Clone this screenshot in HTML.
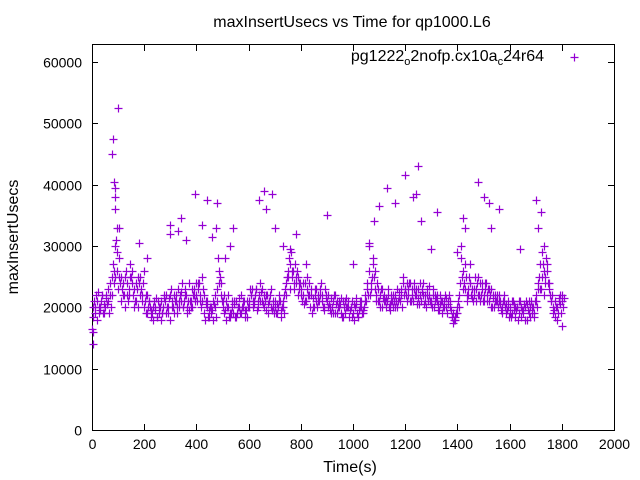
<!DOCTYPE html>
<html><head><meta charset="utf-8"><style>
html,body{margin:0;padding:0;background:#fff;}
svg{display:block;font-family:"Liberation Sans",sans-serif;}
</style></head><body>
<svg id="chart" width="640" height="480" xmlns="http://www.w3.org/2000/svg">
<rect width="640" height="480" fill="#fff"/>
<text x="352" y="27" font-size="16" text-anchor="middle">maxInsertUsecs vs Time for qp1000.L6</text>
<g id="axes"></g>
<g id="marks"></g>
<text x="350" y="472" font-size="16" text-anchor="middle">Time(s)</text>
<text transform="translate(18,237) rotate(-90)" font-size="16" text-anchor="middle">maxInsertUsecs</text>
<g>
<text x="544" y="61" font-size="16" text-anchor="end">pg1222<tspan font-size="11" dy="4">o</tspan><tspan dy="-4">2nofp.cx10a</tspan><tspan font-size="11" dy="4">c</tspan><tspan dy="-4">24r64</tspan></text>
<path d="M570.5 57.5h8M574.5 53.5v8" stroke="#9400d3" stroke-width="1.2"/>
</g>
</svg>
<script>
const xTicks=[0,200,400,600,800,1000,1200,1400,1600,1800,2000];
const yTicks=[0,10000,20000,30000,40000,50000,60000];
const valsA=[16.5,20,21,19.5,22,20,21,24,27,25,
23,21,24,26,22,25,23,21,24,22,
20,19,21,19,20,18.5,20,19,21,20,
22,20,21,23,21,20,22,19.5,21,23,
22,24,21,19,20,18.5,19.5,20,23,25,
21,19.5,20,18.5,19,21,20,19,20,19.5,
21,22,20.5,23,22,21,20,22,21,19.5,
20,19,21,20,23,25,27,26,24,25,
23,22,21,24,22,20,23,21,22,20,
21,19.5,20,22,19,20.5,21,19,20,19.5,
19,20.5,18.5,20,19,21,26,23,25,22,
21,20,22,21,19.5,21,22,20,21,24,
23,22,24,21,22,23,21,22,20,22,
21,20,22,19.5,21,20,19,21,18.5,18,
19,24,26,23,22,24,21,23,25,22,
22,24,21,23,20,21,22,20,21,19.5,
20,19,18.5,20,21,19,20,19.5,18.5,20,
22,24,23,26,28,24,21,19.5,20,21.5,21];
const valsB=[18.5,22,19,21,20.5,22,19,22,26,29,
25,23,20,22,27,24,21,25,22,24,
22,20,18.5,20,21.5,19,21,22,19,21.5,
20,22,19,21,24,22,20,21,23,21,
24,21,23,20.5,18.5,19,21,18.5,26,22,
19,21,18.5,20,20.5,19,21.5,20,18.5,21,
23,20,22,21,24,20.5,22,19,20,21,
19,21,19.5,22,24,28,25,24,26,23,
21,24,23,20,21.5,22,21,23,20,21.5,
20,21.5,19,20.5,21,19,20,21.5,18.5,21,
20.5,19,20,19,22,24,22,28,23,21,
22,21.5,20,23,21,20,21,22.5,23,22,
21,24,22,23,20.5,24,22.5,21,23,21,
22,21,20.5,22,20,21.5,20.5,19.5,17.5,19,
22,28,24,22,25,21.5,22,24,21,23,
23,21,22,21.5,22,20,20.5,21,19,21,
18.5,20.5,19.5,21,18.5,20.5,18,21,20,19,
20,27,25,24,26,22,20,18.5,19,22,20];
const valsC=[20,19,22.5,20,19,21.5,23,20,24,31,
28,25,22,24,23,26,20,23,25,21,
21,22,20,18,19.5,21,18,20,22,19,
23,19,22,20,22.5,21,19,24,20,22,
21,22,25,18,21,20,18,22,28,24,
20,18,22,19,21,18.5,20,22,21,18.5,
20,23,21,19.5,21,23,21,20.5,22,20,
21,20,18.5,21,22,26,29,23,25,24,
22,20.5,25,22,19,23,20,22,21,23,
22,20,21,19,20,21.5,18.5,20,21,20,
18,21.5,19.5,21,20,23,30,25,26,24,
20,23,21,22,20.5,22,20,21,22,25,
22,23,21,24,23,20.5,23,20.5,22,23.5,
20,22,21,20.5,19,22,21,20,19,18.5,
21,30,23,25,23,22,23,21,22,24,
21,22,23,20,21,22,21,19,20,20,
19,21,20,18,20,19.5,21,19,21,18.5,
21,25,29,22,27,23,22,21,18,20.5,22];
const valsD=[21,18,20,22,19,20.5,22,25,30,26,
24,22,25,21,25,22,24,20,23,26,
19,21,19.5,21,18.5,20,19,21.5,20,18,
21,21,20,22,20,23,21,20,22,24,
23,20,22,21,19.5,20,20.5,21,24,21,
22,20,19,21,18.5,20,19,21,19.5,20,
22,21,23,20,22.5,22,19.5,21,23,19,
20.5,22,20,19,25,23,26,27,22,24,
24,21,22,23,20,21,22,24,19.5,22,
20.5,19,22,21,20,18.5,21,20,19.5,18.5,
20,18.5,21,19.5,21,22,24,27,21,23,
23,21,21.5,20,22,21,23,21.5,20,23,
24,21,23,22,21.5,22,24,22,21,20.5,
23,21.5,19.5,21,21,20,22,18.5,18,20,
20,25,27,21,24,23,25,22,24,21,
24,23,20,22,21,21,19.5,22,20.5,18.5,
21,19.5,20,19,19.5,18,20.5,20,19,21,
23,23,27,25,24,21,19,20,21,19,21.5];
const outT=[2,5,100,80,78,85,87,88,90,95,105,180,210,300,300,330,340,360,395,420,440,460,480,475,510,530,540,640,660,665,690,700,730,760,780,820,900,1000,1060,1080,1100,1130,1160,1200,1230,1240,1250,1260,1300,1320,1400,1420,1430,1450,1480,1500,1520,1530,1560,1640,1700,1710,1720,1730,1800];
const outV=[16,14,52.5,47.5,45,40.5,39.5,38,36,33,33,30.5,28,33.5,32,32.5,34.5,31,38.5,33.5,37.5,31.5,37,33,28,30,33,37.5,39,36,38.5,33,30,29.5,32,27,35,27,30.5,34,36.5,39.5,37,41.5,38,38.5,43,34,29.5,35.5,29,34.5,33,27,40.5,38,37,33,36,29.5,37.5,33,35.5,30,17];

const X0=92,X1=614,Y0=430,Y1=62;
const sx=t=>X0+(t/2000)*(X1-X0);
const sy=v=>Y0-(v/60000)*(Y0-Y1);
const NS="http://www.w3.org/2000/svg";
const axes=document.getElementById('axes');
const marks=document.getElementById('marks');
function mk(tag,attrs,parent){const e=document.createElementNS(NS,tag);for(const k in attrs)e.setAttribute(k,attrs[k]);parent.appendChild(e);return e;}
const frame=mk('rect',{x:X0+0.5,y:44.5,width:X1-X0,height:Y0-44,fill:'none',stroke:'#000','stroke-width':1},axes);


xTicks.forEach(t=>{
  const x=Math.round(sx(t))+0.5;
  const tk=mk('path',{d:`M${x} ${Y0}v-6M${x} 45v6`,stroke:'#000'},axes);
  
  
  const lb=mk('text',{x:x,y:Y0+19,'font-size':14,'text-anchor':'middle'},axes);
  lb.textContent=t;
  
  
});
yTicks.forEach(v=>{
  const y=Math.round(sy(v))+0.5;
  const tk=mk('path',{d:`M${X0} ${y}h6M${X1} ${y}h-6`,stroke:'#000'},axes);
  
  
  const lb=mk('text',{x:X0-10,y:y+5,'font-size':14,'text-anchor':'end'},axes);
  lb.textContent=v;
  
  
});
function plus(t,v){
  const x=Math.round(sx(t))+0.5,y=Math.round(sy(v*1000))+0.5;
  const p=mk('path',{d:`M${x-4} ${y}h8M${x} ${y-4}v8`,stroke:'#9400d3','stroke-width':1.2,fill:'none'},marks);
  
  
}
valsA.forEach((v,i)=>plus(i*10,v));
valsB.forEach((v,i)=>plus(i*10+5,v));
valsC.forEach((v,i)=>plus(i*10+2.5,v));
valsD.forEach((v,i)=>plus(i*10+7.5,v));
outT.forEach((t,i)=>plus(t,outV[i]));
</script>
</body></html>
